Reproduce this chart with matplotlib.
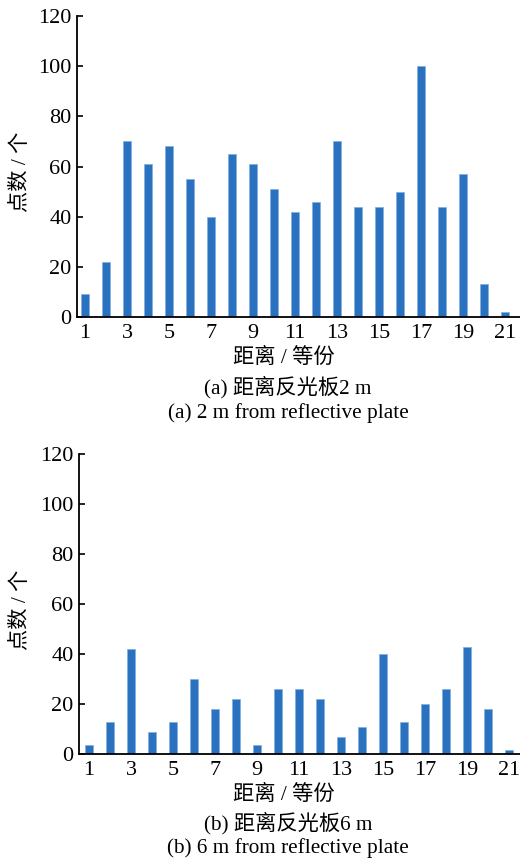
import matplotlib
matplotlib.use("Agg")
import matplotlib.pyplot as plt
import numpy as np

plt.rcParams['font.family'] = ['Liberation Serif', 'Noto Sans CJK SC', 'DejaVu Sans']

categories = list(range(1, 22))
counts_2m = [9, 22, 70, 61, 68, 55, 40, 65, 61, 51, 42, 46, 70, 44, 44, 50, 100, 44, 57, 13, 2]
counts_6m = [3.5, 13, 42, 9, 13, 30, 18, 22, 3.5, 26, 26, 22, 7, 11, 40, 13, 20, 26, 43, 18, 1.5]
xtick_labels = [str(i) for i in range(1, 22, 2)]
yticks = [0, 20, 40, 60, 80, 100, 120]

ylabel = "点数 / 个"
xlabel = "距离 / 等份"
captions = [("(a) 距离反光板2 m", "(a) 2 m from reflective plate"),
            ("(b) 距离反光板6 m", "(b) 6 m from reflective plate")]

bar_color = "#2A72BF"
W, H = 520, 860
fig = plt.figure(figsize=(W / 100, H / 100), dpi=100)

specs = [
    dict(px=(77, 520, 16, 317), xlim=(1 - 8 / 21, 21 + 15 / 21), data=counts_2m,
         ylab_y=172, xlab_y=358, cap_y=(387, 413)),
    dict(px=(79, 520, 454, 754), xlim=(1 - 10 / 21, 21 + 11 / 21), data=counts_6m,
         ylab_y=610, xlab_y=795, cap_y=(823, 848)),
]

for i, s in enumerate(specs):
    l, r, t, b = s["px"]
    ax = fig.add_axes([l / W, 1 - b / H, (r - l) / W, (b - t) / H])
    ax.bar(categories, s["data"], width=0.34, color=bar_color, edgecolor="#7FAEE0", linewidth=0.5)
    ax.set_xlim(*s["xlim"])
    ax.set_ylim(0, 120)
    ax.set_yticks(yticks)
    ax.set_yticklabels([str(v) for v in yticks])
    ax.set_xticks(list(range(1, 22, 2)))
    ax.set_xticklabels(xtick_labels)
    for sp in ("top", "right"):
        ax.spines[sp].set_visible(False)
    ax.spines["left"].set_linewidth(1.3)
    ax.spines["bottom"].set_linewidth(1.3)
    ax.tick_params(axis="y", direction="in", length=4, width=1.2, pad=4, labelsize=16)
    ax.tick_params(axis="x", length=0, pad=5, labelsize=16)
    fig.text(21 / W, 1 - s["ylab_y"] / H, ylabel, rotation=90, ha="center", va="center", fontsize=15.3)
    fig.text(284 / W, 1 - s["xlab_y"] / H, xlabel, ha="center", va="center", fontsize=15.3)
    fig.text(288 / W, 1 - s["cap_y"][0] / H, captions[i][0], ha="center", va="center", fontsize=15.3)
    fig.text(288 / W, 1 - s["cap_y"][1] / H, captions[i][1], ha="center", va="center", fontsize=15.3)

fig.savefig("out.png", dpi=100)
